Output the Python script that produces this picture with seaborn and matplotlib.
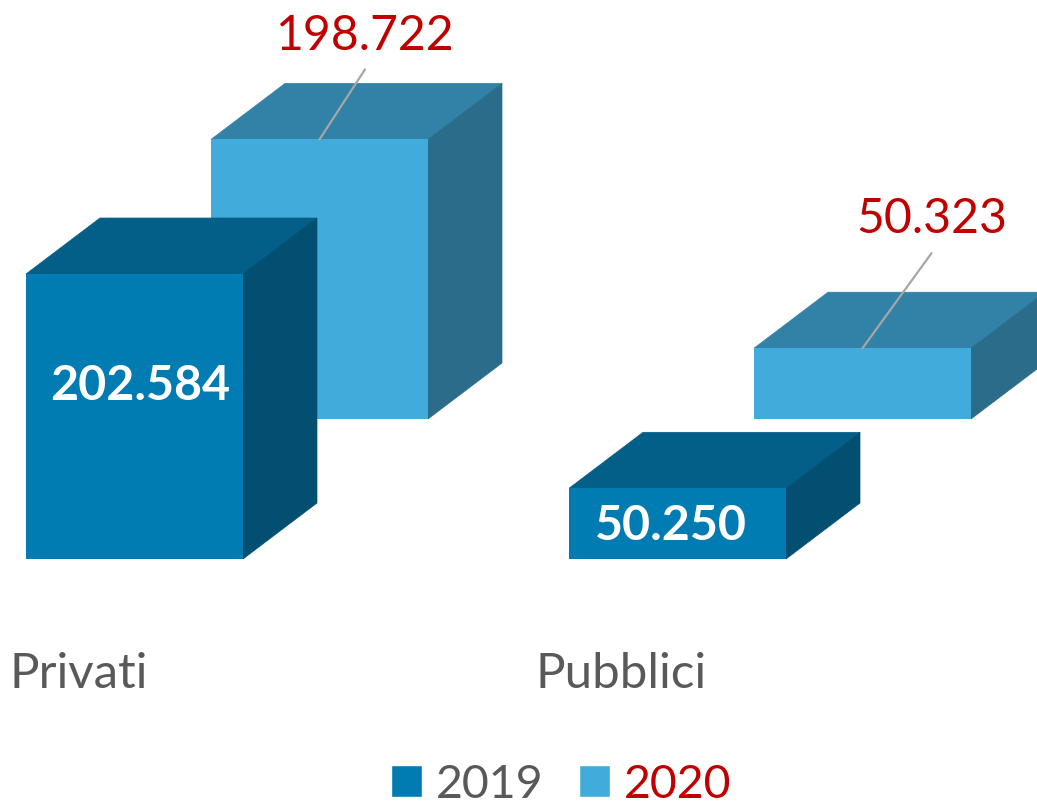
import matplotlib
matplotlib.use("Agg")
import matplotlib.pyplot as plt
import pandas as pd
import seaborn as sns
from matplotlib.patches import Patch, Polygon
from matplotlib.transforms import IdentityTransform

# Data
categories = ["Privati", "Pubblici"]
values_2019 = [202584, 50250]
values_2020 = [198722, 50323]
labels_2019 = ["202.584", "50.250"]
labels_2020 = ["198.722", "50.323"]

# Colours: front, top, side
colors_2019 = ("#007CB3", "#045F88", "#034F72")
colors_2020 = ("#41ABDB", "#3281A6", "#2A6C8A")
RED = "#C00000"
GREY = "#595959"

sns.set_theme(style="white")
plt.rcParams["font.family"] = ["Lato", "DejaVu Sans"]

W, H = 1037, 804
fig = plt.figure(figsize=(W / 100, H / 100), dpi=100)
fig.patch.set_facecolor("white")

PX_PER_VALUE = 285 / 202584
CAT_STEP = 543
DEPTH = (74, 56)


def make_axes(center0, base_y, zorder):
    # full width axes whose zero line sits at pixel row base_y
    ax = fig.add_axes([0, (H - base_y) / H, 1, base_y / H], zorder=zorder)
    ax.patch.set_alpha(0)
    return ax, ((0 - center0) / CAT_STEP, (W - center0) / CAT_STEP), (0, base_y / PX_PER_VALUE)


def draw_bars(ax, xlim, ylim, values, colors):
    df = pd.DataFrame({"category": categories, "value": values})
    sns.barplot(data=df, x="category", y="value", color=colors[0], saturation=1,
                width=217 / CAT_STEP, ax=ax, zorder=2, linewidth=0)
    ax.set_xlim(xlim)
    ax.set_ylim(ylim)
    ax.axis("off")
    dx, dy = DEPTH
    for bar in ax.patches[:]:
        x0, y0 = ax.transData.transform((bar.get_x(), 0))
        x1, y1 = ax.transData.transform((bar.get_x() + bar.get_width(), bar.get_height()))
        top = [(x0, y1), (x1, y1), (x1 + dx, y1 + dy), (x0 + dx, y1 + dy)]
        side = [(x1, y0), (x1 + dx, y0 + dy), (x1 + dx, y1 + dy), (x1, y1)]
        for pts, col in ((top, colors[1]), (side, colors[2])):
            ax.add_patch(Polygon(pts, closed=True, facecolor=col, edgecolor=col, linewidth=0.5,
                                 transform=IdentityTransform(), clip_on=False, zorder=1))


# back row first, front row above it
ax20, xlim20, ylim20 = make_axes(319.5, 420, 1)
draw_bars(ax20, xlim20, ylim20, values_2020, colors_2020)
ax19, xlim19, ylim19 = make_axes(134.5, 560, 2)
draw_bars(ax19, xlim19, ylim19, values_2019, colors_2019)

# Labels inside the front bars
ax19.annotate(labels_2019[0], xy=(0, values_2019[0]), xytext=(6, -111), textcoords="offset pixels",
              ha="center", va="center", color="white", fontsize=34.8, fontweight="bold")
ax19.annotate(labels_2019[1], xy=(1, values_2019[1]), xytext=(-7, -37), textcoords="offset pixels",
              ha="center", va="center", color="white", fontsize=34.8, fontweight="bold")

# Callout labels with leader lines
line_kw = dict(arrowstyle="-", color="#A6A6A6", lw=1.6, shrinkA=0, shrinkB=0)
for i, (val, lab, lab_off, end) in enumerate([
    (values_2020[0], labels_2020[0], (45, 104), (45.5, 70)),
    (values_2020[1], labels_2020[1], (69, 130), (69, 95)),
]):
    ax20.annotate("", xy=(i, val), xytext=end, xycoords="data",
                  textcoords="offset pixels", arrowprops=line_kw, zorder=5)
    ax20.annotate(lab, xy=(i, val), xytext=lab_off, textcoords="offset pixels",
                  ha="center", va="center", color=RED, fontsize=34.7)

# Category labels, shifted left of their bars like the original
for i, cat in enumerate(categories):
    ax19.annotate(cat, xy=(i, 0), xytext=(-56, -114), textcoords="offset pixels",
                  ha="center", va="center", color=GREY, fontsize=35.5)

handles = [Patch(facecolor=colors_2019[0], label="2019"), Patch(facecolor=colors_2020[0], label="2020")]
leg = fig.legend(handles=handles, loc="center", bbox_to_anchor=(561 / W, (H - 785) / H), ncols=2,
                 frameon=False, fontsize=33.5, handlelength=0.67, handleheight=0.67,
                 handletextpad=0.3, columnspacing=0.75, borderpad=0, borderaxespad=0)
leg.get_texts()[0].set_color(GREY)
leg.get_texts()[1].set_color(RED)

fig.savefig("out.png", dpi=100)
